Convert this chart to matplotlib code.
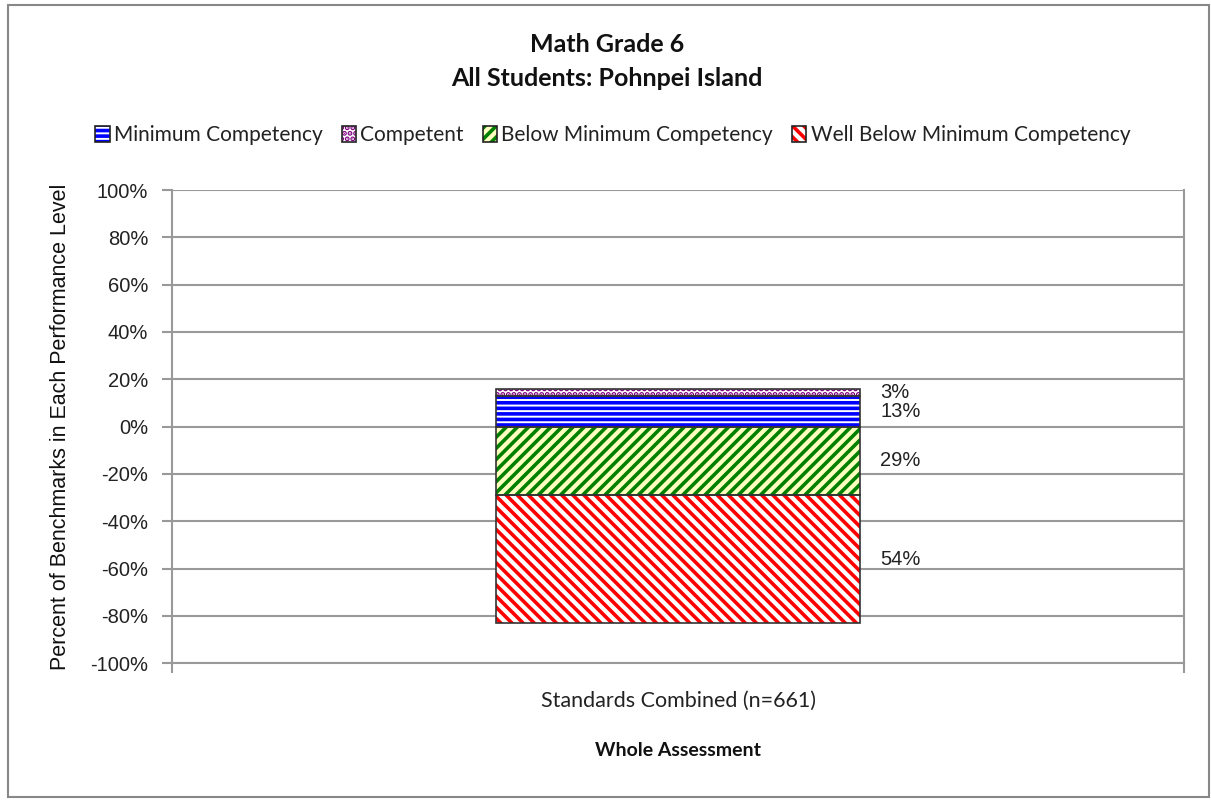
import matplotlib.pyplot as plt
from matplotlib.patches import Rectangle

# --- Data ---
category = "Standards Combined (n=661)"
pos_labels = ["Minimum Competency", "Competent"]
pos_values = [13, 3]
neg_labels = ["Below Minimum Competency", "Well Below Minimum Competency"]
neg_values = [29, 54]

# --- Styles (hatch colour, face colour, hatch) ---
styles = {
    "Minimum Competency": ("#0000FF", "white", "---"),
    "Competent": ("#800080", "white", "..."),
    "Below Minimum Competency": ("#008000", "#FFFFC0", "///"),
    "Well Below Minimum Competency": ("#FF0000", "white", "\\\\\\"),
}
plt.rcParams["hatch.linewidth"] = 2.6

fig = plt.figure(figsize=(12.11, 8), dpi=100)
ax = fig.add_axes([0.142, 0.171, 0.836, 0.5915])

width = 0.359
x = 0


def draw_segment(bottom, height, name):
    hc, fc, hatch = styles[name]
    ax.bar(x, height, width, bottom=bottom, color=fc, edgecolor=hc,
           hatch=hatch, linewidth=0, zorder=3)
    ax.bar(x, height, width, bottom=bottom, fill=False, edgecolor="#333333",
           linewidth=1.2, zorder=4)
    ax.text(x + width / 2 + 0.02, bottom + height / 2, f"{abs(height)}%",
            va="center", ha="left", fontsize=14.5, color="#222222",
            family="Liberation Sans")


bottom = 0
for name, val in zip(pos_labels, pos_values):
    draw_segment(bottom, val, name)
    bottom += val
bottom = 0
for name, val in zip(neg_labels, neg_values):
    draw_segment(bottom, -val, name)
    bottom -= val

ax.set_xlim(-0.5, 0.5)
ax.set_ylim(-100, 100)
ticks = list(range(-100, 101, 20))
ax.set_yticks(ticks)
ax.set_yticklabels([f"{t}%" for t in ticks], family="Liberation Sans",
                   fontsize=14.5, color="#222222")
ax.yaxis.grid(True, color="#999999", linewidth=1.5, zorder=0)
ax.set_axisbelow(True)
ax.tick_params(axis="y", length=7, color="#999999", width=1.5, pad=10)

ax.set_xticks([0])
ax.set_xticklabels([category], family="Lato", fontsize=15.5, color="#222222")
ax.set_xticks([-0.5, 0.5], minor=True)
ax.tick_params(axis="x", which="major", length=0, pad=20)
ax.tick_params(axis="x", which="minor", length=7, color="#999999", width=1.5)

for side in ["left", "right", "bottom"]:
    ax.spines[side].set_color("#999999")
    ax.spines[side].set_linewidth(1.5)
ax.spines["top"].set_visible(False)

ax.set_ylabel("Percent of Benchmarks in Each Performance Level",
              family="Liberation Sans", fontsize=15.5, color="#111111", labelpad=14)
ax.set_xlabel("Whole Assessment", family="Lato", fontsize=14,
              fontweight="bold", color="#111111", labelpad=22)

fig.text(0.501, 0.944, "Math Grade 6", ha="center", va="center",
         family="Lato", fontsize=18, fontweight="bold", color="#111111")
fig.text(0.501, 0.9025, "All Students: Pohnpei Island", ha="center",
         va="center", family="Lato", fontsize=18, fontweight="bold",
         color="#111111")

# Legend
order = ["Minimum Competency", "Competent", "Below Minimum Competency",
         "Well Below Minimum Competency"]
handles = []
for name in order:
    hc, fc, hatch = styles[name]
    fillp = Rectangle((0, 0), 1, 1, facecolor=fc, edgecolor=hc,
                      hatch=hatch, linewidth=0)
    edgep = Rectangle((0, 0), 1, 1, fill=False, edgecolor="#222222",
                      linewidth=1.2)
    handles.append((fillp, edgep))
leg = fig.legend(handles, order, loc="center", bbox_to_anchor=(0.506, 0.831),
                 ncol=4, frameon=False, handlelength=0.7, handleheight=0.8,
                 handletextpad=0.2, columnspacing=0.9,
                 prop={"family": "Lato", "size": 15})
for t in leg.get_texts():
    t.set_color("#222222")

# Outer frame
fig.patches.append(Rectangle((0.007, 0.004), 0.991, 0.99, transform=fig.transFigure,
                             fill=False, edgecolor="#888888", linewidth=1.5))

fig.savefig("out.png", dpi=100)
